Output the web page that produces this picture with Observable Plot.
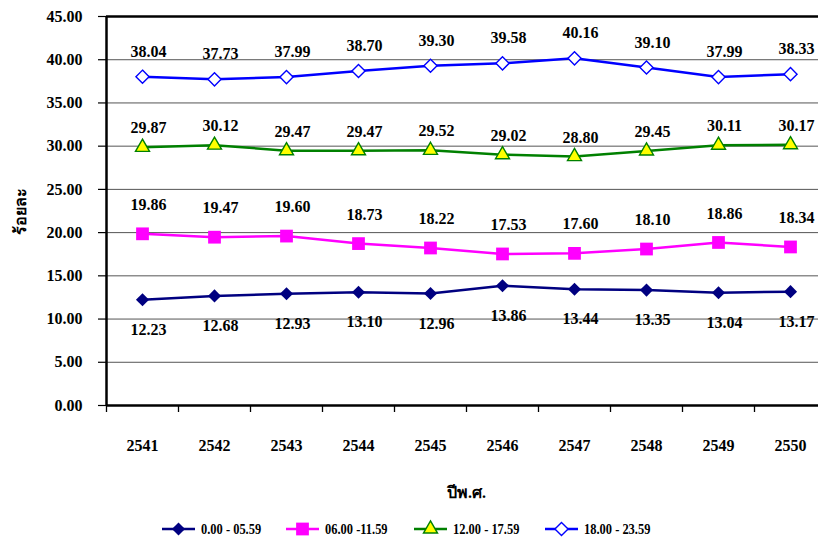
<!DOCTYPE html>
<html>
<head>
<meta charset="utf-8">
<script src="https://cdn.jsdelivr.net/npm/d3@7"></script>
<script src="https://cdn.jsdelivr.net/npm/@observablehq/plot@0.6"></script>
<style>
  body { margin: 0; background: #fff; }
  #chart { position: relative; width: 818px; height: 538px; overflow: hidden; background: #fff;
           font-family: "Liberation Serif", "Times New Roman", serif; }
  #legend { position: absolute; left: 0; top: 519px; width: 818px; height: 20px; }
  .item { position: absolute; top: 0; height: 20px; display: flex; align-items: center; }
  .item svg { display: block; }
  .item span { display: inline-block; margin-left: 6px; font-size: 15px; font-weight: bold;
               transform: scaleX(0.83); transform-origin: left center; white-space: nowrap; color: #000; }
</style>
</head>
<body>
<div id="chart"></div>
<script>
// Share of cases by time of day (%), Buddhist-era years 2541–2550
const years = [2541, 2542, 2543, 2544, 2545, 2546, 2547, 2548, 2549, 2550];
const night     = [12.23, 12.68, 12.93, 13.10, 12.96, 13.86, 13.44, 13.35, 13.04, 13.17];
const morning   = [19.86, 19.47, 19.60, 18.73, 18.22, 17.53, 17.60, 18.10, 18.86, 18.34];
const afternoon = [29.87, 30.12, 29.47, 29.47, 29.52, 29.02, 28.80, 29.45, 30.11, 30.17];
const evening   = [38.04, 37.73, 37.99, 38.70, 39.30, 39.58, 40.16, 39.10, 37.99, 38.33];
const seriesNames = ["0.00 - 05.59", "06.00 -11.59", "12.00 - 17.59", "18.00 - 23.59"];
const yTicks = [0, 5, 10, 15, 20, 25, 30, 35, 40, 45];
const yLabel = "ร้อยละ";
const xLabel = "ปีพ.ศ.";

const series = [
  {name: seriesNames[0], values: night,     stroke: "#000080", fill: "#000080", symbol: "diamond2", r: 5.9, dy: 30,  legendLeft: 162},
  {name: seriesNames[1], values: morning,   stroke: "#FF00FF", fill: "#FF00FF", symbol: "square",   r: 7.2, dy: -29, legendLeft: 286},
  {name: seriesNames[2], values: afternoon, stroke: "#008000", fill: "#FFFF00", symbol: "triangle", r: 5.2, dy: -19, legendLeft: 414},
  {name: seriesNames[3], values: evening,   stroke: "#0000FF", fill: "#FFFFFF", symbol: "diamond2", r: 5.9, dy: -25, legendLeft: 545}
];

const rows = series.flatMap(s => years.map((year, i) => ({series: s.name, year, value: s.values[i]})));
const boundaries = years.map(y => y - 0.5).concat([years[years.length - 1] + 0.5]);
const font = {fontSize: 16, fontWeight: "bold"};

const marks = [
  // horizontal gridlines
  Plot.ruleY(yTicks.filter(t => t > 0 && t < 45), {stroke: "#555", strokeWidth: 1}),
  // plot frame: top, bottom, left
  Plot.ruleY([45], {stroke: "#000", strokeWidth: 2.5}),
  Plot.ruleY([0], {stroke: "#000", strokeWidth: 2.5}),
  Plot.ruleX([boundaries[0]], {stroke: "#000", strokeWidth: 2.5}),
  // y axis ticks and labels
  Plot.axisY(yTicks, {tickSize: 8, tickPadding: 16, tickFormat: d => d.toFixed(2), ...font,
    label: yLabel, labelAnchor: "center", labelOffset: 92, labelArrow: "none", stroke: "#000", strokeWidth: 1.2}),
  // category separator ticks under the x axis
  Plot.axisX(boundaries, {tickSize: 7, tickFormat: () => "", label: null, stroke: "#000", strokeWidth: 1.3}),
  // year labels and x title
  Plot.axisX(years, {tickSize: 0, tickPadding: 34, tickFormat: d => String(d), ...font,
    label: xLabel, labelAnchor: "center", labelOffset: 92, labelArrow: "none"})
];

for (const s of series) {
  const data = rows.filter(d => d.series === s.name);
  marks.push(Plot.line(data, {x: "year", y: "value", stroke: s.stroke, strokeWidth: 2.5}));
  marks.push(Plot.dot(data, {x: "year", y: "value", symbol: s.symbol, r: s.r, fill: s.fill,
    stroke: s.stroke, strokeWidth: s.fill === s.stroke ? 0 : 1.4}));
  marks.push(Plot.text(data, {x: "year", y: "value", text: d => d.value.toFixed(2), dx: 6, dy: s.dy,
    fill: "#000", ...font}));
}

const plot = Plot.plot({
  width: 818,
  height: 500,
  marginTop: 16,
  marginBottom: 95,
  marginLeft: 106,
  marginRight: -8,
  style: {fontFamily: "'Liberation Serif', 'Times New Roman', serif", background: "#fff", overflow: "visible"},
  x: {type: "linear", domain: [boundaries[0], boundaries[boundaries.length - 1]]},
  y: {domain: [0, 45]},
  symbol: {type: "identity"},
  marks
});

const chart = document.getElementById("chart");
chart.appendChild(plot);

// legend below the chart
const legend = document.createElement("div");
legend.id = "legend";
for (const s of series) {
  const item = document.createElement("div");
  item.className = "item";
  item.style.left = s.legendLeft + "px";
  const svg = d3.create("svg").attr("width", 33).attr("height", 20);
  svg.append("line").attr("x1", 0).attr("x2", 33).attr("y1", 10).attr("y2", 10)
    .attr("stroke", s.stroke).attr("stroke-width", 2.5);
  const symType = {diamond2: d3.symbolDiamond2, square: d3.symbolSquare, triangle: d3.symbolTriangle}[s.symbol];
  svg.append("path")
    .attr("transform", "translate(16.5,10)")
    .attr("d", d3.symbol(symType, Math.PI * s.r * s.r)())
    .attr("fill", s.fill)
    .attr("stroke", s.stroke)
    .attr("stroke-width", s.fill === s.stroke ? 0 : 1.4);
  item.appendChild(svg.node());
  const label = document.createElement("span");
  label.textContent = s.name;
  item.appendChild(label);
  legend.appendChild(item);
}
chart.appendChild(legend);
</script>
</body>
</html>
